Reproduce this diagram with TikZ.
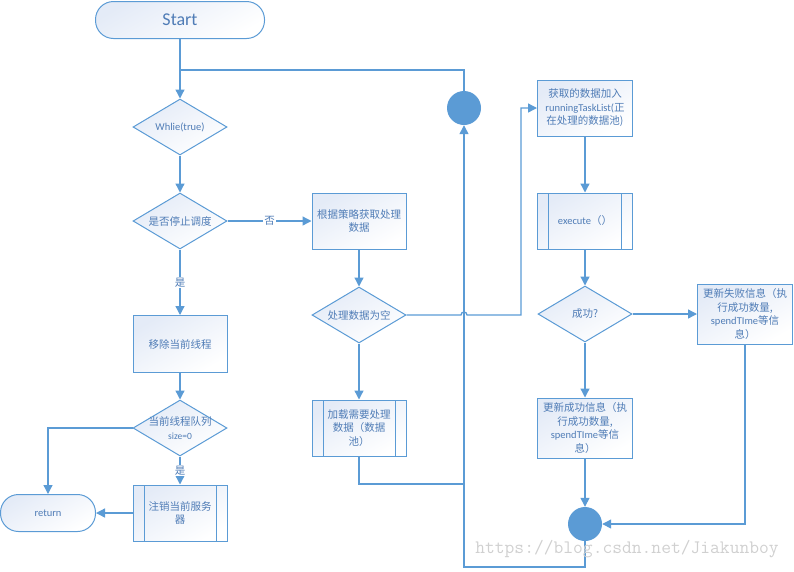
\documentclass[tikz,border=0pt]{standalone}
\usepackage{fontspec}
\setmainfont{Carlito}
\newfontfamily\cjk{Noto Sans CJK SC}
\usetikzlibrary{shapes.geometric,arrows.meta}
\definecolor{flow}{HTML}{5B9BD5}
\definecolor{boxtop}{HTML}{E4EBF7}
\definecolor{txt}{HTML}{4F7CB6}
\definecolor{mark}{HTML}{D0D0D0}
\begin{document}
\begin{tikzpicture}[x=1pt,y=-1pt,
  every node/.style={text=txt,font=\cjk\fontsize{10.5}{13.5}\selectfont,align=center},
  box/.style={draw=flow,line width=1pt,top color=boxtop,bottom color=white,shading angle=30,minimum width=94,minimum height=56,inner sep=1pt},
  pp/.style={box,path picture={
    \draw[flow,line width=1pt] ([xshift=11pt]path picture bounding box.north west) -- ([xshift=11pt]path picture bounding box.south west);
    \draw[flow,line width=1pt] ([xshift=-11pt]path picture bounding box.north east) -- ([xshift=-11pt]path picture bounding box.south east);}},
  dec/.style={box,diamond,aspect=1.68,inner sep=-4pt},
  term/.style={box,rounded corners=18,minimum height=37,font=\fontsize{10.5}{13}\selectfont},
  dot/.style={circle,fill=flow,minimum size=34,inner sep=0pt},
  ln/.style={draw=flow,line width=1.3pt},
  arr/.style={ln,-{Triangle[length=9pt,width=9pt]}},
  lbl/.style={fill=white,inner sep=1pt}]
\useasboundingbox (0,0) rectangle (794,571);
\node (v0) [term,minimum width=169,font=\fontsize{18}{20}\selectfont] at (180,20) {Start};
\node (v1) [dec,font=\fontsize{10.5}{13}\selectfont] at (180,127) {Whlie(true)};
\node (v2) [dec] at (180,221) {是否停止调度};
\node (v3) [box] at (359,221) {根据策略获取处理\\数据};
\node (v4) [box,minimum height=57] at (180,344) {移除当前线程};
\node (v5) [dec] at (180,428) {当前线程队列\\{\rmfamily\fontsize{9.5}{11}\selectfont size=0}};
\node (v6) [pp] at (180,513) {注销当前服务\\器};
\node (v7) [term,minimum width=95] at (48,513) {return};
\node (v8) [dec] at (359,315) {处理数据为空};
\node (v9) [pp] at (359,428) {加载需要处理\\数据（数据\\池）};
\node (v10) [dot] at (464,108) {};
\node (v11) [box,minimum width=95] at (585,108) {获取的数据加入\\{\rmfamily runningTaskList(}正\\在处理的数据池)};
\node (v12) [pp,minimum width=95] at (585,221) {{\rmfamily execute}（）};
\node (v13) [dec] at (585,314) {成功?};
\node (v14) [box,minimum width=95,minimum height=60] at (745,314) {更新失败信息（执\\行成功数量,\\{\rmfamily spendTIme}等信\\息）};
\node (v15) [box,minimum width=95,minimum height=60] at (585,428) {更新成功信息（执\\行成功数量,\\{\rmfamily spendTIme}等信\\息）};
\node (v16) [dot] at (585,524) {};
\coordinate (c0) at (180,70);
\coordinate (c1) at (464,484);
\coordinate (h0) at (461,315);
\coordinate (c2) at (521,315);
\coordinate (c3) at (585,567);
\draw [arr] (v0) -- (v1);
\draw [ln] (v10) |- (c0);
\draw [arr] (v1) -- (v2);
\draw [arr] (v2) -- node[lbl]{否} (v3);
\draw [arr] (v2) -- node[lbl]{是} (v4);
\draw [arr] (v4) -- (v5);
\draw [arr] (v5) -| (v7);
\draw [arr] (v5) -- node[lbl]{是} (v6);
\draw [arr] (v6) -- (v7);
\draw [arr] (v3) -- (v8);
\draw [arr] (v8) -- (v9);
\draw [ln] (v9) |- (c1);
\draw [arr] (v8) -- (h0) arc[start angle=180,end angle=0,radius=3pt] -- (c2) |- (v11);
\draw [arr] (v11) -- (v12);
\draw [arr] (v12) -- (v13);
\draw [arr] (v13) -- (v14);
\draw [arr] (v13) -- (v15);
\draw [arr] (v15) -- (v16);
\draw [arr] (v14) |- (v16);
\draw [arr] (v16) -- (c3) -| (v10);
\node (v17) [text=mark,font=\ttfamily\fontsize{19}{19}\selectfont] at (627,549) {https://blog.csdn.net/Jiakunboy};
\end{tikzpicture}
\end{document}
